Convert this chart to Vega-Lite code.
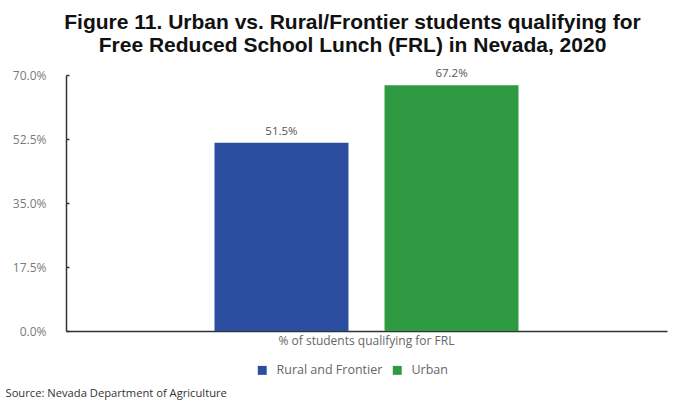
{
  "$schema": "https://vega.github.io/schema/vega-lite/v6.json",
  "width": 601,
  "height": 256,
  "autosize": {"type": "none"},
  "padding": {"left": 66, "top": 75, "right": 16, "bottom": 69},
  "background": "white",
  "title": {
    "text": ["Figure 11. Urban vs. Rural/Frontier students qualifying for", "Free Reduced School Lunch (FRL) in Nevada, 2020"],
    "font": "Liberation Sans",
    "fontSize": 21,
    "fontWeight": "bold",
    "color": "#111111",
    "anchor": "middle",
    "lineHeight": 23.5,
    "dx": -14,
    "offset": 12
  },
  "data": {
    "values": [
      {"measure": "% of students qualifying for FRL", "group": "Rural and Frontier", "value": 0.515},
      {"measure": "% of students qualifying for FRL", "group": "Urban", "value": 0.672}
    ]
  },
  "encoding": {
    "x": {
      "field": "measure",
      "type": "nominal",
      "scale": {"paddingInner": 0, "paddingOuter": 0.4885},
      "axis": {
        "title": "Source: Nevada Department of Agriculture",
        "titleFont": "Open Sans",
        "titleFontSize": 11.2,
        "titleFontWeight": "normal",
        "titleColor": "#333333",
        "titleAnchor": "start",
        "titleAlign": "left",
        "titleBaseline": "middle",
        "titleX": -61,
        "titleY": 62,
        "labelAngle": 0,
        "labelFont": "Open Sans",
        "labelFontSize": 12,
        "labelColor": "#666666",
        "labelPadding": 4,
        "ticks": false,
        "domainColor": "#333333",
        "domainWidth": 1.5
      }
    },
    "xOffset": {"field": "group", "type": "nominal", "scale": {"paddingInner": 0.212, "paddingOuter": 0}},
    "y": {
      "field": "value",
      "type": "quantitative",
      "scale": {"domain": [0, 0.7], "nice": false},
      "axis": {
        "title": null,
        "values": [0, 0.175, 0.35, 0.525, 0.7],
        "format": ".1%",
        "grid": false,
        "labelFont": "Open Sans",
        "labelFontSize": 12,
        "labelColor": "#7a7a7a",
        "labelPadding": 23,
        "tickSize": -3,
        "tickColor": "#333333",
        "tickWidth": 1.5,
        "domainColor": "#333333",
        "domainWidth": 1.5
      }
    }
  },
  "layer": [
    {
      "mark": {"type": "bar"},
      "encoding": {
        "color": {
          "field": "group",
          "type": "nominal",
          "scale": {"domain": ["Rural and Frontier", "Urban"], "range": ["#2B4EA0", "#2E9A42"]},
          "legend": {
            "title": null,
            "orient": "none",
            "direction": "horizontal",
            "legendX": 190,
            "legendY": 289,
            "symbolType": "square",
            "symbolSize": 80,
            "labelFont": "Open Sans",
            "labelFontSize": 12.5,
            "labelColor": "#666666",
            "labelOffset": 8,
            "columnPadding": 8
          }
        }
      }
    },
    {
      "mark": {"type": "text", "dy": -11, "font": "Open Sans", "fontSize": 11.5, "color": "#555555"},
      "encoding": {
        "text": {"field": "value", "type": "quantitative", "format": ".1%"}
      }
    }
  ],
  "config": {"view": {"stroke": null}}
}
